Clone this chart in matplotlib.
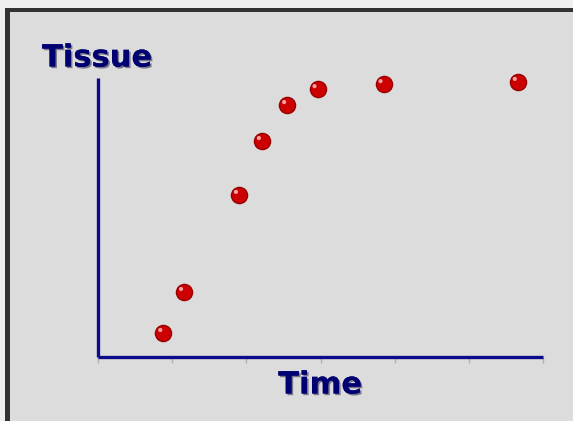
import matplotlib
matplotlib.use("Agg")
import matplotlib.pyplot as plt
import matplotlib.patheffects as pe
from matplotlib.patches import Rectangle
from matplotlib.transforms import offset_copy

# growth measurements: time vs tissue amount
time = [0.88, 1.16, 1.90, 2.21, 2.55, 2.96, 3.85, 5.66]
tissue = [0.86, 2.33, 5.81, 7.74, 9.03, 9.60, 9.78, 9.86]
xticks = [0, 1, 2, 3, 4, 5, 6]

navy = "#0a0a8a"
text_navy = "#000072"
bg = "#dcdcdc"

fig = plt.figure(figsize=(5.73, 4.21), dpi=100)
fig.patch.set_facecolor("#efefef")

# panel background and the dark frame on top / left
fig.add_artist(Rectangle((5 / 573, 0), 1, 1 - 8 / 421, transform=fig.transFigure,
                         facecolor=bg, edgecolor="none", zorder=0))
fig.add_artist(Rectangle((5 / 573, 1 - 12 / 421), 1, 4 / 421, transform=fig.transFigure,
                         facecolor="#333333", edgecolor="none", zorder=1))
fig.add_artist(Rectangle((5 / 573, 0), 5 / 573, 1 - 8 / 421, transform=fig.transFigure,
                         facecolor="#333333", edgecolor="none", zorder=1))

ax = fig.add_axes([98 / 573, 1 - 357 / 421, 445 / 573, 279 / 421])
ax.set_facecolor("none")
ax.set_xlim(0, 6)
ax.set_ylim(0, 10)

for side in ["top", "right"]:
    ax.spines[side].set_visible(False)
for side in ["left", "bottom"]:
    ax.spines[side].set_color(navy)
    ax.spines[side].set_linewidth(2.4)
    ax.spines[side].set_capstyle("butt")

ax.set_xticks(xticks)
ax.set_xticklabels([])
ax.tick_params(axis="x", length=4, width=1, color="#b0b0b0", direction="out")
ax.set_yticks([])

# red balls with a darker rim and a small highlight
ax.scatter(time, tissue, s=135, color="#cc0000", edgecolors="#990000",
           linewidths=1.0, zorder=3, clip_on=False)
hl = offset_copy(ax.transData, fig=fig, x=-3, y=3, units="dots")
ax.scatter(time, tissue, s=9, color="#f4a0a0", edgecolors="none",
           transform=hl, zorder=4, clip_on=False)

shadow = [pe.withSimplePatchShadow(offset=(1.2, -1.2), shadow_rgbFace="#000022", alpha=0.45),
          pe.Normal()]
fig.text(97 / 573, 1 - 58 / 421, "Tissue", ha="center", va="center", fontsize=22,
         fontweight="bold", color=text_navy, family="DejaVu Sans", path_effects=shadow)
fig.text(320 / 573, 1 - 385 / 421, "Time", ha="center", va="center", fontsize=22,
         fontweight="bold", color=text_navy, family="DejaVu Sans", path_effects=shadow)

fig.savefig("out.png", dpi=100, facecolor=fig.get_facecolor())
